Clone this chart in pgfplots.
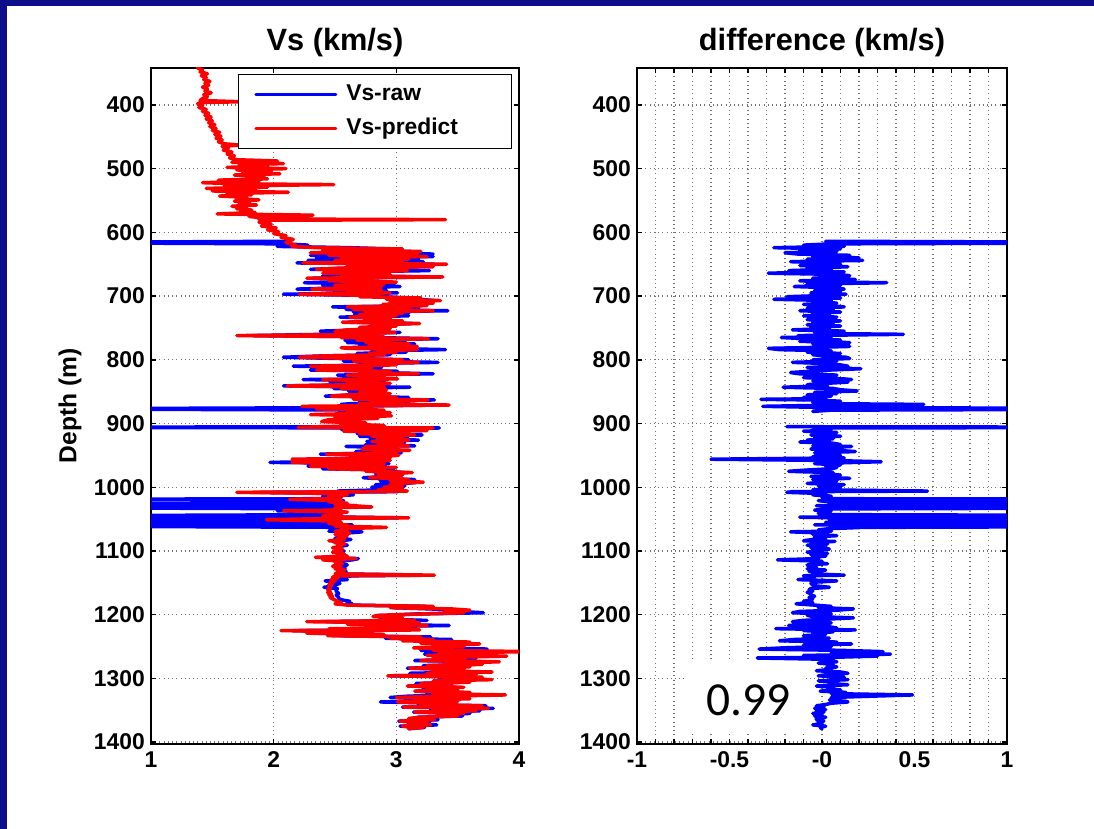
\documentclass[border=0pt]{standalone}
\usepackage{fontspec}
\setmainfont{Liberation Sans}
\newfontfamily\calibri{Carlito}
\usepackage{pgfplots}
\usepackage{pgfplotstable}
\pgfplotsset{compat=1.18}
\definecolor{frame}{RGB}{14,14,138}

% predicted Vs above the start of the raw log
\pgfplotstableread{
d pred
342 1.38
345 1.42
348 1.40
351 1.46
354 1.41
357 1.45
360 1.43
363 1.48
366 1.44
369 1.47
372 1.42
375 1.46
378 1.44
381 1.49
384 1.43
387 1.46
390 1.42
393 1.40
395 1.74
396 1.45
398 1.38
401 1.42
404 1.39
407 1.45
410 1.42
413 1.47
416 1.44
419 1.49
422 1.45
425 1.50
428 1.47
431 1.52
434 1.48
437 1.53
440 1.50
443 1.56
446 1.52
449 1.57
452 1.53
455 1.58
458 1.55
461 1.60
463 1.72
465 1.58
468 1.63
471 1.59
474 1.66
477 1.62
480 1.68
483 1.64
486 1.70
488 2.03
490 1.66
492 2.08
494 1.72
496 1.95
498 1.62
500 2.10
502 1.70
504 1.98
506 1.75
508 2.05
510 1.68
512 1.92
514 1.80
516 1.95
518 1.55
520 1.88
522 1.42
524 1.75
525 2.49
527 1.60
529 1.95
531 1.45
533 1.85
535 1.50
537 2.12
539 1.62
541 1.82
543 1.56
545 1.78
547 1.70
549 1.88
551 1.68
553 1.80
555 1.72
557 1.86
559 1.66
561 1.78
563 1.70
565 1.82
567 1.73
569 1.85
571 1.54
573 2.32
575 1.80
577 1.90
579 1.88
580 3.40
581 1.92
584 1.88
587 1.98
590 1.90
593 2.02
596 1.95
599 2.04
602 2.00
605 2.10
608 2.06
611 2.16
614 2.12
}\upper

% depth (m), predicted Vs (km/s), difference predict - raw (km/s)
\pgfplotstableread{
d pred diff
614 2.12 0.02
616 2.10 2.10
618 2.14 0.05
620 2.18 -0.10
622 2.15 0.12
624 2.35 -0.26
626 3.05 0.10
628 2.40 -0.12
630 3.20 0.08
632 2.30 -0.20
634 3.17 -0.13
636 2.45 0.15
638 3.25 -0.05
640 2.55 0.20
642 3.10 -0.08
644 2.50 0.22
646 3.05 -0.17
648 2.24 0.05
650 3.41 0.10
652 2.60 -0.12
654 3.30 0.14
656 2.55 -0.08
658 2.35 0.05
660 3.09 -0.18
662 2.70 0.12
664 2.40 -0.29
666 2.95 0.08
668 2.55 0.15
670 3.38 0.10
672 2.27 -0.05
674 2.80 0.18
676 2.45 -0.12
678 3.00 0.05
679 2.60 0.35
681 2.90 -0.08
683 2.50 0.10
685 2.88 -0.15
687 2.62 0.06
689 2.31 0.12
691 2.88 -0.04
693 2.60 0.10
695 2.95 -0.06
697 2.21 0.13
699 2.85 0.02
701 2.70 -0.19
703 3.20 0.10
705 2.92 -0.26
707 3.36 0.05
709 2.95 -0.05
711 3.30 0.08
713 2.89 -0.10
715 3.25 0.04
717 2.60 0.12
719 3.10 -0.08
721 2.65 0.06
723 3.30 -0.12
725 2.75 0.10
727 3.05 -0.05
729 2.70 0.04
731 3.00 -0.10
733 2.62 0.08
735 2.95 0.02
737 2.75 -0.08
739 3.05 0.10
741 2.56 -0.05
743 3.19 0.06
745 2.80 -0.08
747 3.00 0.10
749 2.70 -0.06
751 2.95 0.04
753 2.60 -0.16
755 2.50 0.12
757 2.99 -0.04
759 2.70 0.08
760 2.85 0.44
762 1.70 -0.13
764 2.90 0.05
765 2.55 -0.22
767 3.26 -0.08
769 2.68 0.10
771 2.95 -0.12
773 2.75 0.15
775 3.10 -0.05
777 2.78 0.08
779 3.17 0.15
781 2.55 -0.10
782 2.60 -0.29
784 3.17 -0.23
786 2.85 0.05
788 3.00 -0.08
790 2.78 0.10
792 2.90 -0.05
794 2.40 0.02
796 2.21 0.13
798 2.70 0.15
800 3.05 -0.05
802 2.65 0.08
804 3.18 -0.16
806 2.75 0.04
808 3.00 0.10
810 2.30 0.14
812 2.80 -0.08
814 2.75 0.21
816 2.35 0.05
818 2.95 -0.06
820 2.70 -0.17
822 3.18 -0.12
824 2.60 0.08
826 2.90 0.04
828 2.70 -0.10
830 3.01 0.12
831 2.40 0.16
833 2.85 -0.05
835 2.60 0.14
837 2.95 0.02
839 2.65 -0.08
841 2.11 0.03
843 2.90 -0.21
845 2.55 0.06
847 2.92 0.10
849 2.80 0.19
851 2.70 -0.04
853 2.95 0.08
855 2.60 -0.08
857 2.47 0.05
859 3.00 -0.10
861 2.75 0.02
862 2.65 -0.33
863 3.26 -0.05
865 2.80 0.10
867 3.05 -0.05
869 2.70 0.08
870 3.10 0.55
871 3.43 0.10
873 2.23 -0.32
875 2.80 0.05
877 2.35 2.35
879 2.90 0.05
881 2.60 -0.05
883 2.95 nan
886 2.30 nan
888 2.96 nan
890 2.50 nan
892 2.85 nan
894 2.45 nan
897 2.39 nan
899 2.75 nan
901 2.55 nan
903 2.90 nan
905 2.40 -0.19
906 2.20 2.20
907 3.30 -0.05
909 2.60 0.05
911 3.25 0.04
912 2.57 -0.10
914 3.10 0.08
916 2.70 0.02
918 3.15 -0.06
920 2.80 0.10
922 3.05 -0.04
924 2.85 0.06
926 3.10 -0.08
928 2.80 0.04
929 2.95 -0.12
931 3.05 0.06
933 2.85 0.10
935 3.10 -0.05
936 2.75 0.16
938 3.00 0.02
940 2.72 -0.06
942 3.11 0.08
944 2.85 0.18
946 3.00 -0.04
948 2.43 0.05
950 3.02 0.10
952 2.80 -0.05
954 2.95 0.12
956 2.15 -0.60
958 2.95 0.05
960 2.70 0.32
961 2.15 0.18
963 2.90 -0.04
965 2.70 0.10
967 2.30 0.02
969 3.00 0.08
971 2.45 0.05
973 2.90 -0.08
975 2.75 -0.18
977 3.13 0.06
979 2.85 0.02
981 3.05 0.10
983 2.90 -0.06
985 2.78 0.05
986 2.95 0.15
988 3.10 -0.05
990 2.95 0.08
992 3.22 0.04
994 3.00 -0.08
996 2.95 0.12
998 3.05 -0.02
1000 2.90 0.10
1002 3.05 0.08
1004 2.85 -0.05
1006 3.09 0.57
1007 2.85 -0.16
1008 1.70 -0.19
1010 2.55 0.02
1012 2.60 -0.05
1014 2.45 0.05
1016 2.55 0.00
1018 2.50 0.04
1019 2.13 2.13
1021 2.55 -0.02
1023 2.45 0.05
1025 2.60 0.04
1027 2.50 2.50
1029 2.65 -0.03
1031 2.80 2.80
1032 2.50 2.50
1034 2.55 0.02
1036 2.45 -0.04
1037 2.08 0.05
1039 2.60 0.02
1041 2.50 -0.02
1043 2.55 0.03
1045 2.40 2.40
1047 2.50 -0.12
1048 3.10 0.08
1049 2.45 2.45
1051 1.94 0.04
1053 2.50 2.50
1055 2.55 0.02
1057 2.45 2.45
1059 2.60 -0.04
1061 2.50 2.50
1063 2.92 0.22
1065 2.55 0.04
1067 2.60 -0.02
1069 2.50 0.05
1070 2.55 -0.17
1072 2.62 0.03
1074 2.50 -0.05
1076 2.60 0.08
1078 2.55 -0.04
1080 2.52 0.02
1082 2.58 -0.05
1084 2.45 -0.10
1085 2.55 0.07
1087 2.50 -0.06
1089 2.58 0.03
1091 2.52 -0.08
1093 2.55 0.02
1095 2.48 -0.06
1097 2.56 0.04
1099 2.50 -0.05
1100 2.55 -0.02
1102 2.48 -0.08
1104 2.57 0.03
1106 2.52 -0.06
1108 2.60 0.02
1110 2.34 -0.05
1112 2.67 -0.02
1114 2.40 -0.24
1116 2.55 0.00
1118 2.50 -0.06
1120 2.56 0.03
1122 2.52 -0.08
1124 2.48 -0.06
1126 2.55 -0.03
1128 2.50 -0.08
1130 2.58 0.02
1132 2.52 -0.07
1134 2.55 0.00
1136 2.50 -0.05
1138 3.31 0.12
1139 2.55 -0.10
1141 2.48 -0.04
1143 2.52 -0.06
1145 2.47 -0.13
1147 2.50 0.08
1149 2.46 -0.04
1151 2.48 -0.06
1153 2.45 -0.05
1155 2.47 -0.03
1157 2.45 0.04
1159 2.46 -0.06
1161 2.44 -0.07
1163 2.46 -0.05
1165 2.44 -0.08
1167 2.47 -0.06
1169 2.45 -0.06
1171 2.48 -0.04
1173 2.46 -0.07
1175 2.48 -0.05
1177 2.50 -0.06
1179 2.52 -0.10
1181 2.55 -0.05
1183 2.50 -0.14
1185 2.60 -0.04
1187 3.30 0.05
1189 2.95 -0.02
1191 3.45 0.17
1193 3.60 0.08
1195 3.40 -0.12
1197 3.55 -0.16
1199 3.20 0.05
1201 2.85 -0.08
1203 2.81 -0.05
1205 3.05 0.17
1207 2.90 0.03
1209 3.15 -0.10
1211 2.27 -0.16
1213 3.19 0.05
1215 2.60 -0.08
1217 3.25 -0.18
1219 2.80 0.04
1221 3.10 0.08
1222 2.45 -0.25
1224 3.19 0.18
1225 2.06 -0.10
1227 2.80 0.06
1229 2.27 -0.05
1231 2.90 0.02
1233 2.44 -0.10
1235 3.20 -0.08
1237 2.95 0.04
1239 3.30 -0.15
1241 3.05 -0.23
1243 3.60 0.08
1245 3.20 -0.06
1246 3.68 0.16
1248 3.30 -0.10
1250 3.55 0.05
1252 3.14 -0.20
1254 3.40 -0.34
1256 3.30 0.10
1258 4.10 0.33
1260 3.35 0.05
1262 3.60 0.37
1264 3.25 -0.10
1265 3.90 0.30
1267 3.45 0.05
1268 3.30 -0.35
1270 3.55 0.02
1272 3.20 0.05
1274 3.84 0.08
1276 3.40 -0.02
1278 3.70 0.06
1280 3.25 0.03
1282 3.60 0.08
1284 3.11 0.02
1286 3.55 0.05
1288 3.30 -0.03
1290 3.78 0.10
1292 3.25 0.14
1294 3.65 0.03
1296 2.93 -0.02
1298 3.70 0.12
1300 3.40 0.05
1302 3.78 0.14
1304 3.30 -0.02
1306 3.60 0.08
1308 3.20 0.04
1310 3.45 0.14
1312 3.09 -0.03
1314 3.55 0.06
1316 3.25 0.03
1318 3.50 0.10
1320 3.15 -0.01
1322 3.60 0.13
1324 3.30 0.05
1326 3.89 0.49
1328 3.35 0.26
1330 3.00 0.05
1332 3.60 0.08
1334 3.20 0.04
1336 3.50 0.13
1337 3.01 0.14
1339 3.45 0.05
1341 3.20 0.02
1343 3.70 -0.03
1345 3.06 0.01
1347 3.75 -0.04
1349 3.30 0.02
1351 3.65 -0.03
1353 3.15 0.01
1355 3.55 -0.05
1357 3.35 0.00
1359 3.50 -0.04
1361 3.20 0.02
1363 3.10 -0.03
1365 3.31 -0.03
1367 3.03 0.01
1369 3.25 -0.02
1371 3.10 0.00
1373 3.28 -0.05
1375 3.05 0.02
1377 3.22 -0.01
1379 3.10 0.00
}\logs

\pgfplotsset{
  welllog/.style={
    scale only axis, height=135.2mm,
    y dir=reverse, ymin=342, ymax=1403,
    ytick={400,500,...,1400},
    axis line style={line width=1.1pt},
    every tick/.style={black, line width=0.8pt},
    major tick length=1mm, minor tick length=1mm,
    grid=major, grid style={dotted, line width=0.7pt, black!55},
    tick label style={font=\bfseries\fontsize{13}{15}\selectfont},
    xticklabel style={yshift=-0.3mm},
    /pgf/number format/assume math mode=true,
    /pgf/number format/set thousands separator={},
    scaled ticks=false,
    title style={font=\bfseries\fontsize{17.5}{20}\selectfont,
                 at={(0.5,1)}, anchor=base, yshift=1.35mm},
    unbounded coords=jump,
  },
  trace/.style={line width=2pt, line join=round, line cap=round},
}

\begin{document}
\begin{tikzpicture}
\path[use as bounding box, fill=white] (0,0) rectangle (218.8mm,165.8mm);
\fill[frame] (0,0) rectangle (1.4mm,165.8mm);
\fill[frame] (0,164.6mm) rectangle (218.8mm,165.8mm);

\begin{axis}[welllog,
  at={(30.2mm,17mm)}, anchor=south west, width=73.6mm,
  xmin=1, xmax=4, xtick={1,2,3,4},
  title={Vs (km/s)},
  ylabel={Depth (m)},
  ylabel style={at={(axis description cs:-0.22,0.5)}, anchor=center,
                font=\bfseries\fontsize{14}{16}\selectfont},
  legend style={at={(0.981,0.991)}, anchor=north east, draw=black,
                line width=0.8pt, fill=white,
                inner xsep=3.2mm, inner ysep=1.3mm,
                row sep=1.4mm, column sep=1.3mm,
                font=\bfseries\fontsize{13}{15}\selectfont,
                nodes={inner sep=0.5mm, text width=29.3mm,
                       text height=3.4mm, text depth=1mm, align=left}},
  legend image code/.code={\draw[#1, line width=1.6pt] (0mm,0mm) -- (16mm,0mm);},
]
\addplot[blue, trace] table[x expr=\thisrow{pred}-\thisrow{diff}, y=d]{\logs};
\addlegendentry{Vs-raw}
\addplot[red, trace] table[x=pred, y=d]{\logs};
\addlegendentry{Vs-predict}
\addplot[red, trace, forget plot] table[x=pred, y=d]{\upper};
\end{axis}

\begin{axis}[welllog,
  at={(127.4mm,17mm)}, anchor=south west, width=74mm,
  xmin=-1, xmax=1, xtick={-1,-0.5,0,0.5,1},
  xticklabels={-1,-0.5,-0,0.5,1},
  minor x tick num=4, xminorgrids=true,
  title={difference (km/s)},
]
\fill[white] (axis cs:-0.735,1271) rectangle (axis cs:-0.086,1387);
\node[font=\calibri\fontsize{27}{30}\selectfont, anchor=base]
  at (axis cs:-0.397,1357.5) {0.99};
\addplot[blue, trace] table[x=diff, y=d]{\logs};
\end{axis}
\end{tikzpicture}
\end{document}
